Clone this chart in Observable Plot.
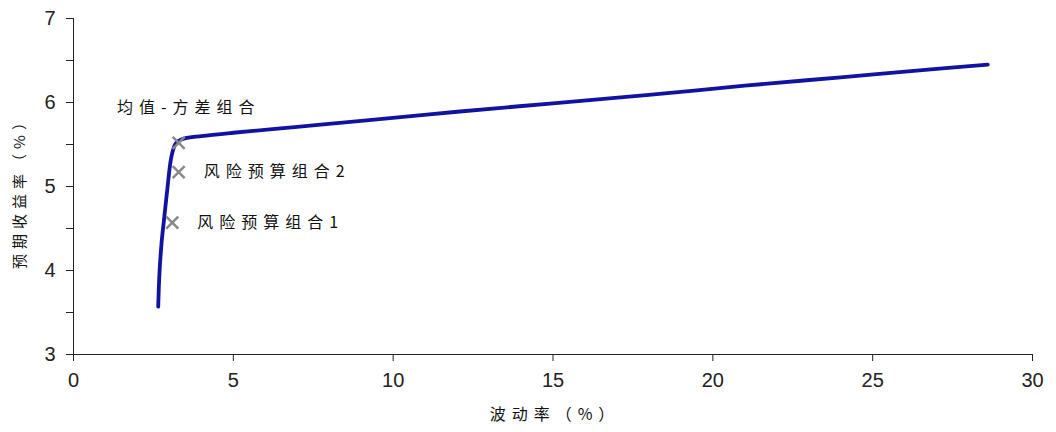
<!DOCTYPE html>
<html>
<head>
<meta charset="utf-8">
<script src="https://cdn.jsdelivr.net/npm/d3@7"></script>
<script src="https://cdn.jsdelivr.net/npm/@observablehq/plot@0.6"></script>
<style>
  html, body { margin: 0; padding: 0; background: #fff; }
  #chart { width: 1056px; height: 432px; }
</style>
</head>
<body>
<div id="chart"></div>
<script>
// Efficient frontier (volatility %, expected return %)
const frontierVol = [2.65, 2.67, 2.70, 2.76, 2.83, 2.93, 3.06, 3.18, 3.28, 3.45, 4.0, 5.0, 7.0, 9.0, 12.0, 15.0, 18.0, 21.0, 24.0, 27.0, 28.6];
const frontierRet = [3.57, 3.80, 4.04, 4.35, 4.60, 4.95, 5.35, 5.50, 5.54, 5.57, 5.60, 5.64, 5.71, 5.78, 5.89, 5.99, 6.09, 6.20, 6.30, 6.40, 6.45];

// Portfolios
const portNames = ["均值-方差组合", "风险预算组合2", "风险预算组合1"];
const portVol = [3.29, 3.29, 3.09];
const portRet = [5.52, 5.17, 4.57];

const xTicks = [0, 5, 10, 15, 20, 25, 30];
const yTicks = [3, 4, 5, 6, 7];
const yMinorTicks = [3, 3.5, 4, 4.5, 5, 5.5, 6, 6.5, 7];

const xTitle = "波动率（%）";
const yTitle = "预期收益率（%）";

const frontier = frontierVol.map((v, i) => ({vol: v, ret: frontierRet[i]}));
const ports = portNames.map((n, i) => ({name: n, vol: portVol[i], ret: portRet[i]}));

const cjk = "'Noto Sans CJK SC', sans-serif";

const chart = Plot.plot({
  width: 1056,
  height: 432,
  marginLeft: 73,
  marginRight: 24,
  marginTop: 18,
  marginBottom: 78,
  style: {fontFamily: "'Liberation Sans', Arial, sans-serif", fontSize: "20px", color: "#222", background: "#fff"},
  x: {domain: [0, 30]},
  y: {domain: [3, 7]},
  marks: [
    Plot.ruleY([3], {stroke: "#222", strokeWidth: 1}),
    Plot.ruleX([0], {stroke: "#222", strokeWidth: 1}),
    Plot.axisX({ticks: xTicks, tickSize: 7, tickPadding: 11, tickFormat: d3.format("d"), label: null, fontSize: 20, stroke: "#222", fill: "#222"}),
    Plot.axisY({ticks: yMinorTicks, tickSize: 7, tickFormat: () => "", label: null, stroke: "#222"}),
    Plot.axisY({ticks: yTicks, tickSize: 7, tickPadding: 11, tickFormat: d3.format("d"), label: null, fontSize: 20, stroke: "#222", fill: "#222"}),
    Plot.line(frontier, {x: "vol", y: "ret", stroke: "#1212a2", strokeWidth: 3.8, curve: "catmull-rom"}),
    Plot.dot(ports, {x: "vol", y: "ret", symbol: "times", r: 5.5, stroke: "#888", strokeWidth: 2.5}),
    Plot.text(ports.slice(0, 1), {x: "vol", y: "ret", text: "name", dx: 10, dy: -35, textAnchor: "middle", fontSize: 16, fontFamily: cjk, fill: "#111"}),
    Plot.text(ports.slice(1), {x: "vol", y: "ret", text: "name", dx: 25, dy: 0, textAnchor: "start", fontSize: 16, fontFamily: cjk, fill: "#111"}),
    Plot.text([{t: xTitle, x: 15}], {x: "x", frameAnchor: "bottom", dy: 65, dx: 2, text: "t", fontSize: 16, fontFamily: cjk, fill: "#111"}),
    Plot.text([{t: yTitle, y: 5}], {y: "y", frameAnchor: "left", textAnchor: "middle", dx: -53, dy: 3, rotate: -90, text: "t", fontSize: 15, fontFamily: cjk, fill: "#111", className: "ytitle"})
  ]
});
document.getElementById("chart").appendChild(chart);
// letter spacing for the CJK labels
chart.querySelectorAll("text").forEach(t => {
  if (/[\u4e00-\u9fff]/.test(t.textContent)) t.style.letterSpacing = "6px";
});
chart.querySelectorAll(".ytitle text").forEach(t => { t.style.letterSpacing = "5px"; });
</script>
</body>
</html>
